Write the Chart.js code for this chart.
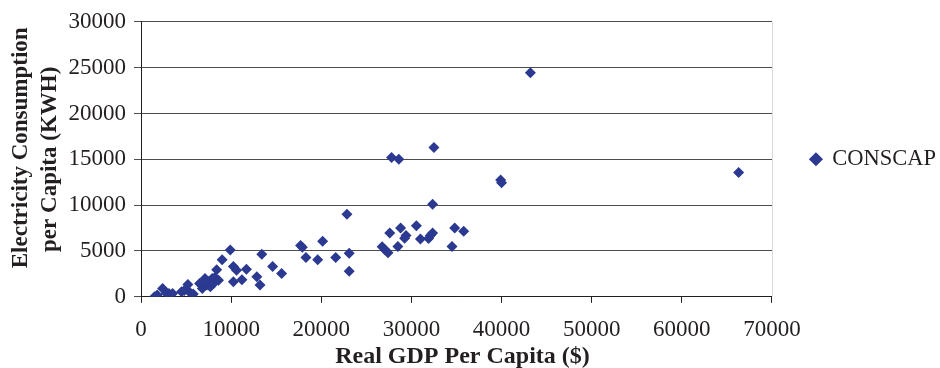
<!DOCTYPE html>
<html lang="en">
<head>
<meta charset="UTF-8">
<script src="https://cdn.jsdelivr.net/npm/chart.js@4.4.1/dist/chart.umd.min.js"></script>
<title>CONSCAP vs GDP</title>
<style>
    body { margin: 0; background: #fff; }
</style>
</head>
<body>
<canvas id="scatterChart" width="940" height="368"></canvas>
<script>
// real GDP per capita ($)
const gdpPerCapita = [
    1500, 1800, 2400, 2800, 3100, 3500, 4500, 4800, 5200, 5400,
    5800, 6500, 6800, 7100, 7300, 7500, 7700, 7900, 8100, 8200,
    8400, 8600, 9000, 9900, 10250, 10600, 10250, 11200, 11700, 12850,
    13200, 13400, 14600, 15600, 17700, 17900, 18300, 19600, 20150, 21600,
    22850, 23100, 23100, 26750, 27100, 27400, 27600, 27800, 28600, 28800,
    28500, 29250, 29400, 30550, 31000, 31900, 32100, 32350, 32350, 32500,
    34500, 34800, 35800, 39900, 40000, 43200, 66300
];
// electricity consumption per capita (KWH)
const consCap = [
    0, 200, 900, 400, 350, 350, 550, 700, 1350, 500,
    300, 1450, 900, 2000, 1300, 1650, 1100, 2000, 1500, 2100,
    2950, 1800, 4050, 5100, 3300, 2900, 1650, 1850, 3000, 2200,
    1300, 4650, 3300, 2550, 5600, 5400, 4300, 4050, 6050, 4300,
    9000, 4750, 2800, 5450, 5100, 4800, 6950, 15200, 15000, 7500,
    5500, 6400, 6700, 7750, 6300, 6350, 6700, 6950, 10100, 16300,
    5500, 7500, 7150, 12750, 12450, 24450, 13550
];
const xTicks = [0, 10000, 20000, 30000, 40000, 50000, 60000, 70000];
const yTicks = [0, 5000, 10000, 15000, 20000, 25000, 30000];

const points = gdpPerCapita.map((g, i) => ({ x: g, y: consCap[i] }));
const serif = "'Liberation Serif', 'DejaVu Serif', serif";
const ink = '#231f20';
const markerColor = '#2b3990';
const nbsp = '\u00a0';

// light frame line on the right side of the plot
const rightEdge = {
    id: 'rightEdge',
    afterDraw(chart) {
        const a = chart.chartArea;
        const ctx = chart.ctx;
        ctx.save();
        ctx.strokeStyle = '#d9d9d9';
        ctx.lineWidth = 1;
        ctx.beginPath();
        ctx.moveTo(Math.round(a.right) + 0.5, a.top);
        ctx.lineTo(Math.round(a.right) + 0.5, a.bottom);
        ctx.stroke();
        ctx.restore();
    }
};

new Chart(document.getElementById('scatterChart'), {
    type: 'scatter',
    data: {
        datasets: [{
            label: 'CONSCAP',
            data: points,
            pointStyle: 'rectRot',
            pointRadius: 5.5,
            pointHoverRadius: 5.5,
            backgroundColor: markerColor,
            borderColor: markerColor,
            borderWidth: 0
        }]
    },
    options: {
        responsive: false,
        animation: false,
        layout: { padding: { left: 7, right: -6, top: 9, bottom: 0 } },
        scales: {
            x: {
                type: 'linear',
                min: 0,
                max: 70000,
                afterBuildTicks: axis => { axis.ticks = xTicks.map(v => ({ value: v })); },
                ticks: {
                    font: { family: serif, size: 23 },
                    color: ink,
                    padding: 13,
                    maxRotation: 0,
                    callback: v => String(v)
                },
                grid: { drawOnChartArea: false, tickLength: 6, color: ink },
                border: { color: ink, width: 1 },
                title: {
                    display: true,
                    text: nbsp.repeat(2) + 'Real GDP Per Capita ($)',
                    font: { family: serif, size: 24, weight: 'bold', lineHeight: 0.9 },
                    color: ink,
                    padding: { top: -10, bottom: 0 }
                }
            },
            y: {
                min: 0,
                max: 30000,
                afterBuildTicks: axis => { axis.ticks = yTicks.map(v => ({ value: v })); },
                ticks: {
                    font: { family: serif, size: 23 },
                    color: ink,
                    padding: 8,
                    callback: v => String(v)
                },
                grid: { color: '#4d4d4d', tickLength: 7 },
                border: { color: ink, width: 1 },
                title: {
                    display: true,
                    text: [nbsp.repeat(4) + 'Electricity Consumption', 'per Capita (KWH)'],
                    font: { family: serif, size: 23, weight: 'bold', lineHeight: 1.25 },
                    color: ink,
                    padding: { top: 0, bottom: -4 }
                }
            }
        },
        plugins: {
            legend: {
                position: 'right',
                fullSize: false,
                labels: {
                    usePointStyle: true,
                    pointStyle: 'rectRot',
                    boxWidth: 10,
                    boxHeight: 10,
                    padding: 39,
                    color: ink,
                    font: { family: serif, size: 22.5 }
                }
            },
            tooltip: { enabled: false }
        }
    },
    plugins: [rightEdge]
});
</script>
</body>
</html>
